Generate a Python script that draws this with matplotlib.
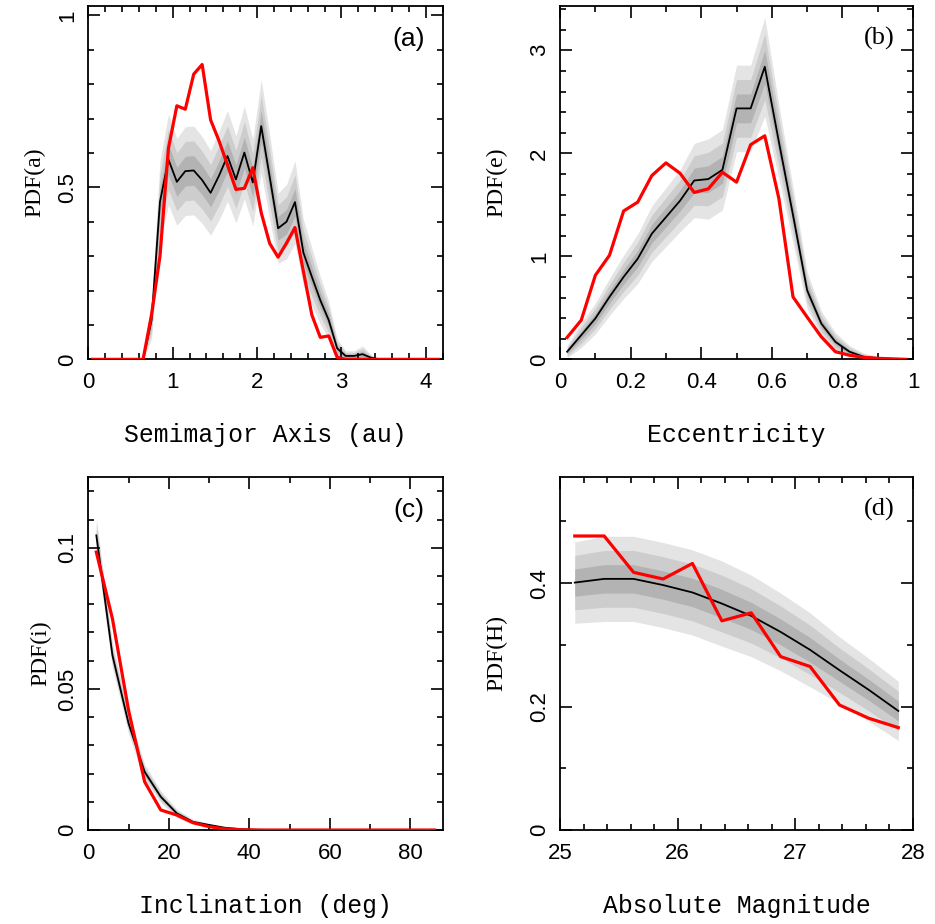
import numpy as np
import matplotlib
matplotlib.use("Agg")
import matplotlib.pyplot as plt
from matplotlib.ticker import MultipleLocator, FuncFormatter

# --- datos ---

# (a) semieje mayor, bins de 0.1 au
a_x = np.arange(0.05, 4.2, 0.1)
a_model = [0, 0, 0, 0, 0, 0, 0.0, 0.114, 0.458, 0.581, 0.516, 0.547, 0.549, 0.521,
           0.484, 0.534, 0.591, 0.523, 0.601, 0.514, 0.678, 0.531, 0.381, 0.400,
           0.457, 0.310, 0.240, 0.172, 0.114, 0.032, 0.010, 0.010, 0.015, 0.005,
           0, 0, 0, 0, 0, 0, 0, 0]
a_sigma = [0, 0, 0, 0, 0, 0, 0.0, 0.018, 0.040, 0.044, 0.042, 0.043, 0.043, 0.042,
           0.041, 0.043, 0.044, 0.042, 0.045, 0.042, 0.045, 0.041, 0.034, 0.036,
           0.040, 0.032, 0.028, 0.023, 0.018, 0.009, 0.005, 0.005, 0.008, 0.003,
           0, 0, 0, 0, 0, 0, 0, 0]
a_obs = [0, 0, 0, 0, 0, 0, 0.0, 0.130, 0.300, 0.613, 0.737, 0.727, 0.829, 0.857,
         0.696, 0.635, 0.565, 0.494, 0.497, 0.557, 0.426, 0.337, 0.297, 0.338,
         0.383, 0.255, 0.129, 0.064, 0.068, 0.006, 0, 0, 0, 0,
         0, 0, 0, 0, 0, 0, 0, 0]

# (b) excentricidad, bins de 0.04
e_x = np.arange(0.02, 1.0, 0.04)
e_model = [0.074, 0.235, 0.397, 0.606, 0.800, 0.977, 1.220, 1.380, 1.540, 1.736,
           1.750, 1.840, 2.436, 2.436, 2.840, 2.110, 1.400, 0.670, 0.348, 0.170,
           0.074, 0.025, 0.010, 0.004, 0.0]
e_sigma = [0.020, 0.040, 0.050, 0.060, 0.070, 0.080, 0.090, 0.095, 0.100, 0.120,
           0.130, 0.130, 0.140, 0.140, 0.160, 0.120, 0.090, 0.060, 0.040, 0.030,
           0.020, 0.012, 0.006, 0.003, 0.0]
e_obs = [0.213, 0.380, 0.816, 1.010, 1.440, 1.526, 1.784, 1.907, 1.806, 1.620,
         1.655, 1.816, 1.720, 2.084, 2.170, 1.560, 0.606, 0.410, 0.219, 0.074,
         0.040, 0.020, 0.010, 0.005, 0.0]

# (c) inclinacion, bins de 4 grados
i_x = np.arange(2, 88, 4)
i_model = [0.1044, 0.0619, 0.0378, 0.0206, 0.0118, 0.0059, 0.0029, 0.0018,
           0.0008, 0.0003, 0.0001, 0, 0, 0, 0, 0, 0, 0, 0, 0, 0, 0]
i_sigma = [0.0020, 0.0015, 0.0012, 0.0009, 0.0007, 0.0005, 0.0003, 0.0002,
           0.0001, 0.0001, 0, 0, 0, 0, 0, 0, 0, 0, 0, 0, 0, 0]
i_obs = [0.0985, 0.0749, 0.0425, 0.0171, 0.0071, 0.0053, 0.0026, 0.0012,
         0.0004, 0.0001, 0, 0, 0, 0, 0, 0, 0, 0, 0, 0, 0, 0]

# (d) magnitud absoluta, bins de 0.25
h_x = np.arange(25.125, 28.0, 0.25)
h_model = [0.401, 0.407, 0.407, 0.397, 0.385, 0.367, 0.347, 0.321, 0.292,
           0.259, 0.227, 0.193]
h_sigma = [0.022, 0.023, 0.023, 0.023, 0.023, 0.023, 0.022, 0.021, 0.020,
           0.018, 0.017, 0.016]
h_obs = [0.4765, 0.4765, 0.4176, 0.4068, 0.432, 0.339, 0.352, 0.281, 0.265,
         0.2026, 0.181, 0.166]

grises = ['#e4e4e4', '#cdcdcd', '#b3b3b3']

paneles = [
    dict(x=a_x, m=a_model, s=a_sigma, o=a_obs, xlim=(0, 4.2), ylim=(0, 1.027),
         xmaj=1, xmin=0.2, ymaj=0.5, ymin=0.1, xlabel='Semimajor Axis (au)',
         ylabel='PDF(a)', tag='(a)', tagfont='Liberation Sans',
         pos=[0.0944, 0.6111, 0.379, 0.3824], ylx=-0.15),
    dict(x=e_x, m=e_model, s=e_sigma, o=e_obs, xlim=(0, 1), ylim=(0, 3.43),
         xmaj=0.2, xmin=0.1, ymaj=1, ymin=0.2, xlabel='Eccentricity',
         ylabel='PDF(e)', tag='(b)', tagfont='Liberation Serif',
         pos=[0.599, 0.6111, 0.3775, 0.3824], ylx=-0.178),
    dict(x=i_x, m=i_model, s=i_sigma, o=i_obs, xlim=(0, 88), ylim=(0, 0.1252),
         xmaj=20, xmin=10, ymaj=0.05, ymin=0.01, xlabel='Inclination (deg)',
         ylabel='PDF(i)', tag='(c)', tagfont='Liberation Sans',
         pos=[0.0944, 0.1017, 0.379, 0.3824], ylx=-0.135),
    dict(x=h_x, m=h_model, s=h_sigma, o=h_obs, xlim=(25, 28), ylim=(0, 0.5726),
         xmaj=1, xmin=0.2, ymaj=0.2, ymin=0.1, xlabel='Absolute Magnitude',
         ylabel='PDF(H)', tag='(d)', tagfont='Liberation Serif',
         pos=[0.599, 0.1017, 0.3775, 0.3824], ylx=-0.178),
]

fmt = FuncFormatter(lambda v, p: '%g' % round(v, 6))

fig = plt.figure(figsize=(9.35, 9.24), dpi=100)

for p in paneles:
    ax = fig.add_axes(p['pos'])
    x = np.asarray(p['x'])
    m = np.asarray(p['m'])
    s = np.asarray(p['s'])
    # bandas 3, 2, 1 sigma
    for k, c in zip([3, 2, 1], grises):
        ax.fill_between(x, np.clip(m - k * s, 0, None), m + k * s, color=c, lw=0)
    ax.plot(x, m, color='black', lw=1.3, zorder=3)
    ax.plot(x, p['o'], color='red', lw=2.3, zorder=3)

    ax.set_xlim(p['xlim'])
    ax.set_ylim(p['ylim'])
    ax.xaxis.set_major_locator(MultipleLocator(p['xmaj']))
    ax.xaxis.set_minor_locator(MultipleLocator(p['xmin']))
    ax.yaxis.set_major_locator(MultipleLocator(p['ymaj']))
    ax.yaxis.set_minor_locator(MultipleLocator(p['ymin']))
    ax.xaxis.set_major_formatter(fmt)
    ax.yaxis.set_major_formatter(fmt)
    ax.tick_params(which='both', direction='in', top=True, right=True, width=1.2)
    ax.tick_params(which='major', length=8.5)
    ax.tick_params(which='minor', length=4.5)
    ax.tick_params(axis='x', which='major', pad=9, labelsize=16)
    ax.tick_params(axis='y', which='major', pad=7, labelsize=16)
    for t in ax.get_xticklabels() + ax.get_yticklabels():
        t.set_family('Liberation Sans')
    for t in ax.get_yticklabels():
        t.set_rotation(90)
        t.set_va('center')
    for sp in ax.spines.values():
        sp.set_linewidth(1.3)

    ax.set_xlabel(p['xlabel'], family='Liberation Mono', fontsize=17.8, va='center')
    ax.xaxis.set_label_coords(0.5, -0.214)
    ax.set_ylabel(p['ylabel'], family='Liberation Serif', fontsize=17, va='center')
    ax.yaxis.set_label_coords(p['ylx'], 0.5)
    ax.text(0.905, 0.907, p['tag'], transform=ax.transAxes, ha='center',
            va='center', family=p['tagfont'], fontsize=19)

fig.savefig('out.png', dpi=100)
